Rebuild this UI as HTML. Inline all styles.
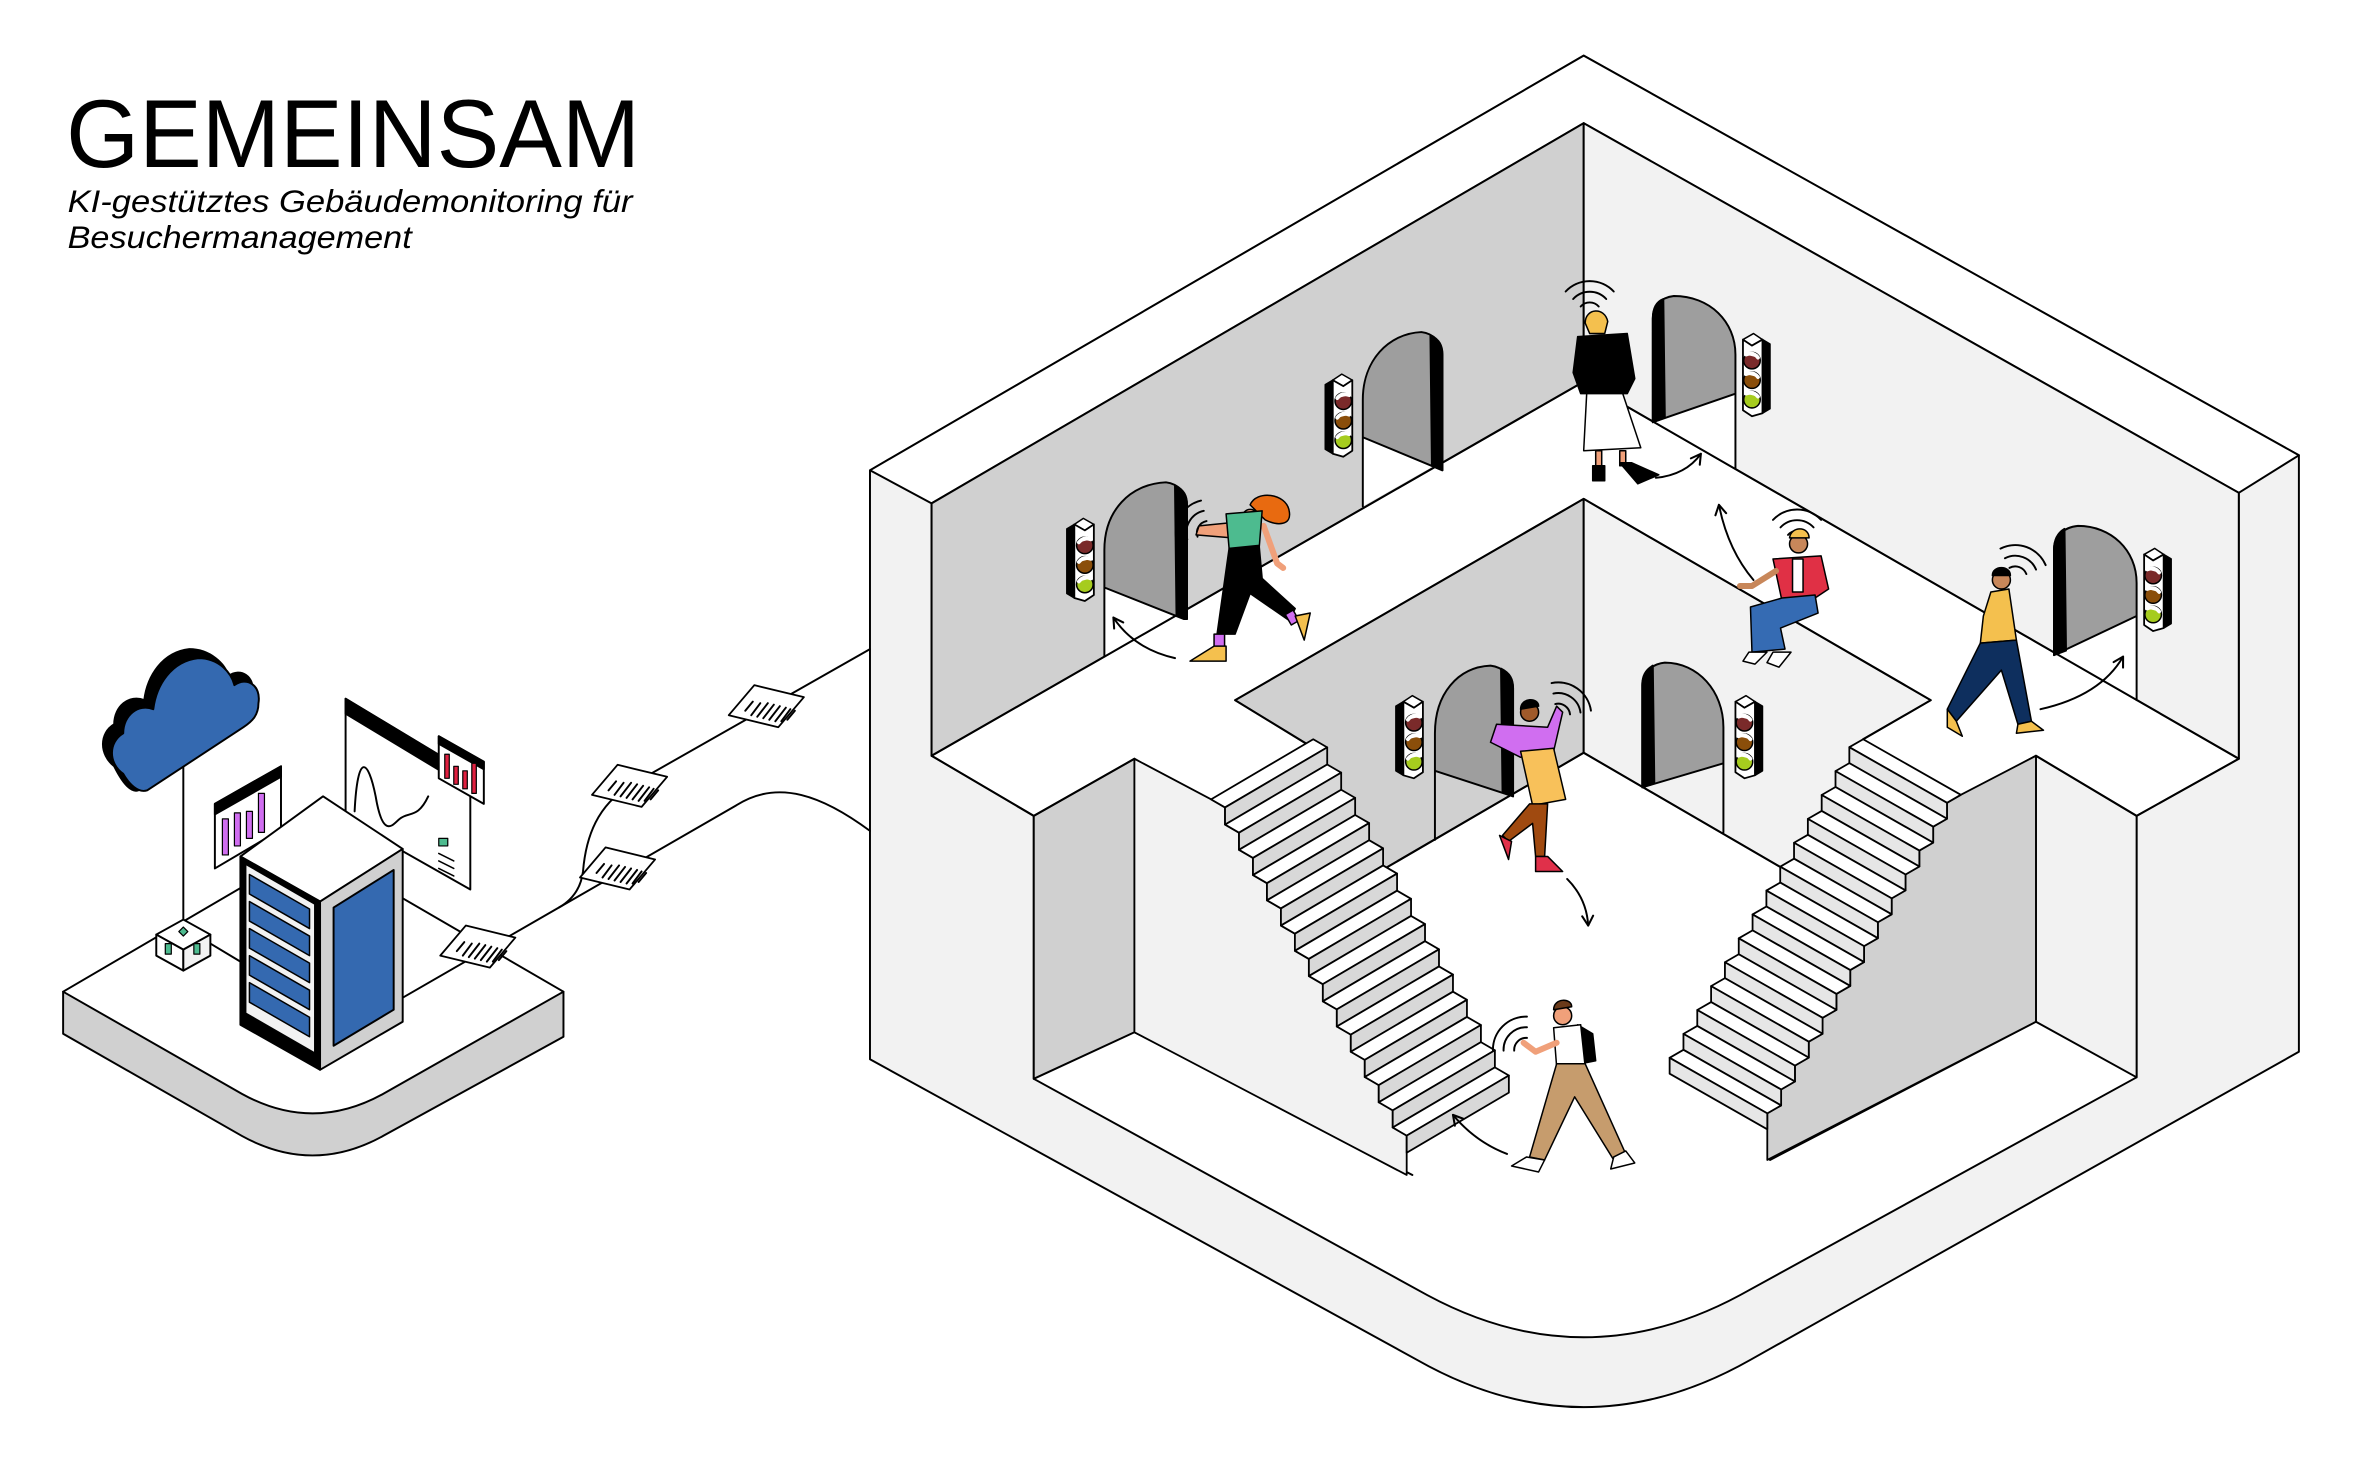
<!DOCTYPE html>
<html><head><meta charset="utf-8"><style>
html,body{margin:0;padding:0;background:#fff}
svg{display:block}
text{font-family:"Liberation Sans",Arial,sans-serif}
</style></head><body>
<svg width="2356" height="1483" viewBox="0 0 1568 987" xmlns="http://www.w3.org/2000/svg" stroke-linejoin="round" stroke-linecap="round">
<defs>
<g id="tlL">
<polygon points="0,4 5,1 5,50 0,47" fill="#000" stroke="#000" stroke-width="1"/>
<polygon points="5,1 11,-3 18,1 12,5" fill="#fff" stroke="#000" stroke-width="1"/>
<polygon points="5,1 12,5 18,1 18,48 12,52 5,50" fill="#fff" stroke="#000" stroke-width="1.2"/>
<circle cx="12" cy="15" r="5.5" fill="#7a2a2a" stroke="#000" stroke-width="1"/>
<circle cx="12" cy="28" r="5.5" fill="#8a4e0a" stroke="#000" stroke-width="1"/>
<circle cx="12" cy="41" r="5.5" fill="#a6cc1e" stroke="#000" stroke-width="1"/>
<path d="M8,13 q3,-4 8,-2 M8,26 q3,-4 8,-2 M8,39 q3,-4 8,-2" fill="#fff" stroke="#fff" stroke-width="2.5"/>
</g>
<g id="tlR"><use href="#tlL" transform="translate(18,0) scale(-1,1)"/></g>
<g id="doc">
<polygon points="-25,6 -8,-14 25,-6 8,14" fill="#fff" stroke="#000" stroke-width="1.2"/>
<path d="M-14,3 l5,-6 M-10,6 l6,-8 M-6,7 l7,-9 M-2,8 l7,-9 M2,9 l7,-9 M6,10 l7,-9 M10,10 l6,-8 M14,9 l5,-6" stroke="#000" stroke-width="1.3"/>
</g>
<g id="wifi" fill="none" stroke="#000" stroke-width="1.3">
<path d="M-6,0 a8,8 0 0 1 12,0"/><path d="M-11,-5 a15,15 0 0 1 22,0"/><path d="M-16,-10 a22,22 0 0 1 32,0"/>
</g>
<marker id="ah" viewBox="0 0 10 10" refX="8" refY="5" markerWidth="7" markerHeight="7" orient="auto-start-reverse">
<path d="M1,1 L8,5 L1,9" fill="none" stroke="#000" stroke-width="1.5"/>
</marker>
</defs>

<text x="44" y="111" font-size="64" textLength="382" lengthAdjust="spacingAndGlyphs">GEMEINSAM</text>
<text x="45" y="141" font-size="21" font-style="italic" textLength="376" lengthAdjust="spacingAndGlyphs">KI-gestütztes Gebäudemonitoring für</text>
<text x="45" y="165" font-size="21" font-style="italic" textLength="229" lengthAdjust="spacingAndGlyphs">Besuchermanagement</text>

<g stroke="#000" stroke-width="1.3">
<path d="M579,313 L1054,37 L1530,303 L1530,700 L1165,905 Q1054,968 943,905 L579,705 Z" fill="#f2f2f2"/>
<polygon points="579,313 1054,37 1530,303 1490,328 1054,82 620,335" fill="#fff"/>
<path d="M620,335 L1054,82 L1490,328 L1490,505 L1422,543 L1422,717 L1158,862 Q1054,918 950,862 L688,718 L688,543 L620,503 Z" fill="#fff"/>
<polygon points="620,335 1054,82 1054,254 620,503" fill="#d0d0d0"/>
<polygon points="1054,82 1490,328 1490,505 1054,254" fill="#f2f2f2"/>

<polygon points="735,437 735,391 788,412 788,406" fill="#fff" stroke="none"/>
<path d="M735,437 V391 V366 C735,340 752,322 776,321 C784,322 790,328 790,336 V412 L788,412 L735,391" fill="#9e9e9e"/>
<path d="M782,323 C788,326 790,330 790,336 V412 L783,409 Z" fill="#000"/>
<polygon points="907,337 907,291 958,313 958,308" fill="#fff" stroke="none"/>
<path d="M907,337 V291 V266 C907,240 924,222 946,221 C954,222 960,228 960,236 V313 L907,291" fill="#9e9e9e"/>
<path d="M952,223 C958,226 960,230 960,236 V313 L953,310 Z" fill="#000"/>
<line x1="620" y1="503" x2="1054" y2="254"/>
<polygon points="1100,280 1155,262 1155,312" fill="#fff" stroke="none"/>
<path d="M1155,312 V262 V236 C1155,214 1138,197 1114,197 C1105,198 1100,204 1100,212 V281 L1155,262" fill="#9e9e9e"/>
<path d="M1107,199 C1102,201 1100,206 1100,212 V281 L1108,278 Z" fill="#000"/>
<polygon points="1367,435 1422,410 1422,466" fill="#fff" stroke="none"/>
<path d="M1422,466 V410 V388 C1422,366 1405,350 1383,350 C1373,351 1367,357 1367,366 V436 L1422,410" fill="#9e9e9e"/>
<path d="M1374,352 C1369,355 1367,360 1367,366 V436 L1375,433 Z" fill="#000"/>
<line x1="1054" y1="254" x2="1490" y2="505"/>

<polygon points="822,466 1054,332 1054,501 920,579 876,499" fill="#d0d0d0"/>
<polygon points="1054,332 1285,466 1240,492 1190,580 1054,501" fill="#f2f2f2"/>
<path d="M955,559 V513 V488 C955,462 970,444 992,443 C1000,444 1007,450 1007,458 V530 L955,513" fill="#9e9e9e"/>
<path d="M999,445 C1005,448 1007,452 1007,458 V530 L1000,527 Z" fill="#000"/>
<path d="M1147,554 V508 V484 C1147,460 1130,441 1108,441 C1099,442 1093,448 1093,456 V524 L1147,508" fill="#9e9e9e"/>
<path d="M1100,443 C1095,446 1093,450 1093,456 V524 L1101,521 Z" fill="#000"/>
<line x1="920" y1="579" x2="1054" y2="501"/><line x1="1054" y1="501" x2="1190" y2="580"/>

<polygon points="688,543 755,505 755,687 688,718" fill="#d0d0d0"/>
<polygon points="1355,503 1422,543 1422,717 1355,680" fill="#f2f2f2"/>
<line x1="755" y1="687" x2="940" y2="782"/>
<line x1="1178" y1="772" x2="1355" y2="680"/>
<polyline points="620,503 688,543 755,505 810,537" fill="none"/>
<polyline points="1305,530 1355,503 1422,543 1490,505" fill="none"/>
<polyline points="876,499 822,466 1054,332 1285,466 1240,492" fill="none"/>
</g>

<g id="stairs" stroke="#000" stroke-width="1.2"></g>

<use href="#tlL" x="710" y="348"/>
<use href="#tlL" x="882" y="252"/>
<use href="#tlR" x="1160" y="225"/>
<use href="#tlR" x="1427" y="368"/>
<use href="#tlL" x="929" y="466"/>
<use href="#tlR" x="1155" y="466"/>

<use href="#wifi" transform="translate(800,352) rotate(-60)"/>
<use href="#wifi" transform="translate(1058,204)"/>
<use href="#wifi" transform="translate(1196,356)"/>
<use href="#wifi" transform="translate(1343,380) rotate(20)"/>
<use href="#wifi" transform="translate(1040,472) rotate(35)"/>
<use href="#wifi" transform="translate(1012,695) rotate(-45)"/>

<g fill="none" stroke="#000" stroke-width="1.3" marker-end="url(#ah)">
<path d="M782,438 Q755,432 741,411"/>
<path d="M1102,318 Q1122,316 1132,302"/>
<path d="M1167,386 Q1150,366 1144,336"/>
<path d="M1358,472 Q1398,463 1413,437"/>
<path d="M1043,585 Q1056,598 1057,616"/>
<path d="M1003,768 Q982,760 967,742"/>
</g>

<g stroke="#000" stroke-width="1">
<path d="M832,336 C836,326 856,328 858,340 C860,350 850,350 842,346 Z" fill="#e86a10"/>
<circle cx="832" cy="344" r="5" fill="#f0a07a"/>
<path d="M818,348 L798,350 L796,356 L820,358 Z" fill="#f0a07a"/>
<path d="M841,350 L850,375 L854,378" fill="none" stroke="#f0a07a" stroke-width="4"/>
<polygon points="816,342 840,340 838,365 818,365" fill="#4dbb8f"/>
<polygon points="818,365 838,363 840,385 862,405 858,413 832,395 822,422 810,422" fill="#000"/>
<rect x="808" y="422" width="7" height="10" fill="#d06ef0"/>
<rect x="857" y="407" width="6" height="8" fill="#d06ef0" transform="rotate(-30 860 411)"/>
<path d="M808,430 L816,430 L816,440 L792,440 Z" fill="#f4c04e"/>
<path d="M862,410 L872,408 L868,426 Z" fill="#f4c04e"/>
<path d="M1055,215 C1055,205 1068,204 1070,214 L1068,222 L1058,222 Z" fill="#f4c04e"/>
<path d="M1050,224 L1083,222 L1088,252 L1083,262 L1052,262 L1047,248 Z" fill="#000"/>
<polygon points="1056,262 1080,262 1092,298 1054,300" fill="#fff"/>
<rect x="1062" y="300" width="4" height="12" fill="#f0a07a"/>
<rect x="1078" y="300" width="4" height="10" fill="#f0a07a"/>
<path d="M1060,310 L1068,310 L1068,320 L1060,320 Z" fill="#000"/>
<path d="M1078,308 L1086,308 L1104,316 L1090,322 Z" fill="#000"/>
<circle cx="1197" cy="362" r="6" fill="#c8875a"/>
<path d="M1191,358 C1192,350 1204,350 1204,358 Z" fill="#f4c04e"/>
<polygon points="1180,372 1212,370 1217,392 1205,400 1186,400" fill="#e03045"/>
<rect x="1193" y="372" width="7" height="22" fill="#fff"/>
<path d="M1182,380 L1166,390 L1158,390" fill="none" stroke="#c8875a" stroke-width="4"/>
<polygon points="1186,398 1208,396 1210,408 1185,418 1188,432 1166,434 1165,404" fill="#356bb3"/>
<path d="M1164,434 L1176,434 L1168,442 L1160,440 Z" fill="#fff"/>
<path d="M1180,434 L1192,434 L1184,444 L1176,441 Z" fill="#fff"/>
<circle cx="1332" cy="386" r="6" fill="#c8875a"/>
<path d="M1326,383 C1326,376 1338,376 1338,383 Z" fill="#000"/>
<polygon points="1325,394 1337,392 1342,426 1318,428 1320,410" fill="#f4c04e"/>
<polygon points="1318,428 1342,426 1352,480 1343,482 1332,446 1302,480 1296,472" fill="#0e2f5e"/>
<path d="M1296,472 L1302,480 L1306,490 L1296,484 Z" fill="#f4c04e"/>
<path d="M1343,482 L1352,480 L1360,486 L1342,488 Z" fill="#f4c04e"/>
<circle cx="1018" cy="474" r="6" fill="#a05a2a"/>
<path d="M1012,472 C1012,464 1024,464 1024,470 Z" fill="#000"/>
<polygon points="996,482 1030,484 1036,470 1040,474 1034,500 1012,504 992,494" fill="#d06ef0"/>
<polygon points="1012,500 1034,498 1042,532 1020,536" fill="#f8c15a"/>
<polygon points="1018,535 1030,535 1028,570 1022,570 1020,548 1004,560 1000,556" fill="#a04a10"/>
<path d="M998,556 L1006,560 L1004,572 Z" fill="#e0304a"/>
<path d="M1022,570 L1030,570 L1040,580 L1022,580 Z" fill="#e0304a"/>
<circle cx="1040" cy="676" r="6" fill="#f0a07a"/>
<path d="M1034,672 C1034,664 1046,664 1046,670 Z" fill="#6a3a1a"/>
<path d="M1050,682 L1060,688 L1062,706 L1052,708 Z" fill="#000"/>
<polygon points="1034,684 1052,682 1055,710 1036,710" fill="#fff"/>
<path d="M1036,694 L1022,700 L1014,694" fill="none" stroke="#f0a07a" stroke-width="4"/>
<polygon points="1036,708 1055,708 1082,768 1074,772 1048,730 1028,772 1018,770" fill="#c69c6d"/>
<path d="M1016,770 L1028,772 L1024,780 L1006,776 Z" fill="#fff"/>
<path d="M1074,770 L1082,766 L1088,774 L1072,778 Z" fill="#fff"/>
</g>

<g stroke="#000" stroke-width="1.3">
<path d="M42,660 L42,688 L161,756 Q208,782 255,756 L375,690 L375,660 Z" fill="#d0d0d0"/>
<path d="M42,660 L208,563 L375,660 L255,728 Q208,754 161,728 Z" fill="#fff"/>
<g fill="none">
<path d="M579,432 L419,523 C398,536 390,556 388,580 Q386,596 372,604"/>
<path d="M579,553 C548,530 518,518 490,536 L372,604 L268,664"/>
<path d="M122,505 V615"/>
<path d="M140,628 L160,640"/>
</g>
<use href="#doc" transform="translate(510,470)"/>
<use href="#doc" transform="translate(419,523)"/>
<use href="#doc" transform="translate(411,578)"/>
<use href="#doc" transform="translate(318,630)"/>
<path d="M76,510 C66,502 66,488 76,482 C76,470 86,462 96,466 C98,450 108,434 126,432 C140,432 150,442 152,450 C160,444 170,450 168,462 C168,470 164,476 158,480 L92,526 C86,528 80,518 76,510 Z" fill="#000"/>
<path d="M82,515 C72,508 72,494 82,488 C82,476 92,468 102,472 C104,456 114,440 132,438 C146,438 154,448 156,456 C164,450 174,456 172,468 C172,476 168,480 162,484 L98,526 C92,528 86,522 82,515 Z" fill="#3469b0"/>
<polygon points="104,622 122,612 140,622 122,632" fill="#fff"/>
<polygon points="104,622 122,632 122,646 104,636" fill="#fff"/>
<polygon points="122,632 140,622 140,636 122,646" fill="#f2f2f2"/>
<rect x="110" y="628" width="4" height="7" fill="#4dbb8f" stroke-width="0.8"/>
<rect x="129" y="628" width="4" height="7" fill="#4dbb8f" stroke-width="0.8"/>
<polygon points="119,620 122,617 125,620 122,623" fill="#4dbb8f" stroke-width="0.8"/>
<polygon points="143,535 187,510 187,552 143,578" fill="#fff"/>
<polygon points="143,535 187,510 187,517 143,542" fill="#000"/>
<g fill="#d06ef0" stroke-width="0.8"><rect x="148" y="545" width="4" height="24"/><rect x="156" y="541" width="4" height="22"/><rect x="164" y="540" width="4" height="18"/><rect x="172" y="528" width="4" height="26"/></g>
<polygon points="230,465 313,515 313,592 230,545" fill="#fff"/>
<polygon points="230,465 313,515 313,525 230,475" fill="#000"/>
<path d="M236,540 C238,500 245,505 250,530 C255,560 262,548 266,545 C272,540 278,545 285,530" fill="none"/>
<rect x="292" y="558" width="6" height="5" fill="#4dbb8f" stroke-width="0.8"/>
<path d="M292,568 l10,5 M292,573 l10,5 M292,578 l10,5" fill="none" stroke-width="1"/>
<polygon points="292,490 322,507 322,535 292,518" fill="#fff"/>
<polygon points="292,490 322,507 322,512 292,495" fill="#000"/>
<g fill="#e02040" stroke-width="0.8"><rect x="296" y="502" width="3" height="16"/><rect x="302" y="510" width="3" height="12"/><rect x="308" y="513" width="3" height="12"/><rect x="314" y="508" width="3" height="20"/></g>
<polygon points="160,570 215,530 268,565 213,600" fill="#fff"/>
<polygon points="160,570 213,600 213,712 160,682" fill="#000"/>
<polygon points="164,576 209,602 209,700 164,674" fill="#f2f2f2" stroke="none"/>
<polygon points="213,600 268,565 268,680 213,712" fill="#d0d0d0"/>
<polygon points="222,604 262,579 262,672 222,696" fill="#3469b0"/>
</g>
<g fill="#3469b0" stroke="#000" stroke-width="1">
<polygon points="166,582 206,605 206,618 166,595"/>
<polygon points="166,600 206,623 206,636 166,613"/>
<polygon points="166,618 206,641 206,654 166,631"/>
<polygon points="166,636 206,659 206,672 166,649"/>
<polygon points="166,654 206,677 206,690 166,667"/>
</g>
</svg>
<script>
(function(){
var g=document.getElementById('stairs'),out='';
function P(a){return a.map(function(p){return p[0].toFixed(1)+','+p[1].toFixed(1)}).join(' ')}
var p=[806,532],w=[68,-40],t=[9.3,5.4],h=11.4,n=14,side=[[755,505]],i,a,b,c,d;
for(i=0;i<n;i++){side.push([p[0],p[1]]);side.push([p[0]+t[0],p[1]+t[1]]);p=[p[0]+t[0],p[1]+t[1]+h];side.push([p[0],p[1]]);}
side.push([p[0],782]);side.push([755,687]);
out+='<polygon points="'+P(side)+'" fill="#f2f2f2"/>';
p=[806,532];
for(i=0;i<n;i++){a=p;b=[p[0]+w[0],p[1]+w[1]];c=[b[0]+t[0],b[1]+t[1]];d=[p[0]+t[0],p[1]+t[1]];
out+='<polygon points="'+P([a,b,c,d])+'" fill="#fff"/>';
out+='<polygon points="'+P([d,c,[c[0],c[1]+h],[d[0],d[1]+h]])+'" fill="#d8d8d8"/>';
p=[d[0],d[1]+h];}
p=[1240,492];w=[65,37];t=[-9.2,5.3];h=10.6;
side=[[1355,503],[p[0]+w[0],p[1]+w[1]]];
for(i=0;i<n;i++){var q=[p[0]+w[0],p[1]+w[1]];side.push([q[0]+t[0],q[1]+t[1]]);p=[p[0]+t[0],p[1]+t[1]+h];side.push([p[0]+w[0],p[1]+w[1]]);}
side.push([p[0]+w[0],772]);side.push([1355,680]);
out+='<polygon points="'+P(side)+'" fill="#d0d0d0"/>';
p=[1240,492];
for(i=0;i<n;i++){a=p;b=[p[0]+w[0],p[1]+w[1]];c=[b[0]+t[0],b[1]+t[1]];d=[p[0]+t[0],p[1]+t[1]];
out+='<polygon points="'+P([a,b,c,d])+'" fill="#fff"/>';
out+='<polygon points="'+P([d,c,[c[0],c[1]+h],[d[0],d[1]+h]])+'" fill="#e6e6e6"/>';
p=[d[0],d[1]+h];}
g.innerHTML=out;
})();
</script>
</body></html>
